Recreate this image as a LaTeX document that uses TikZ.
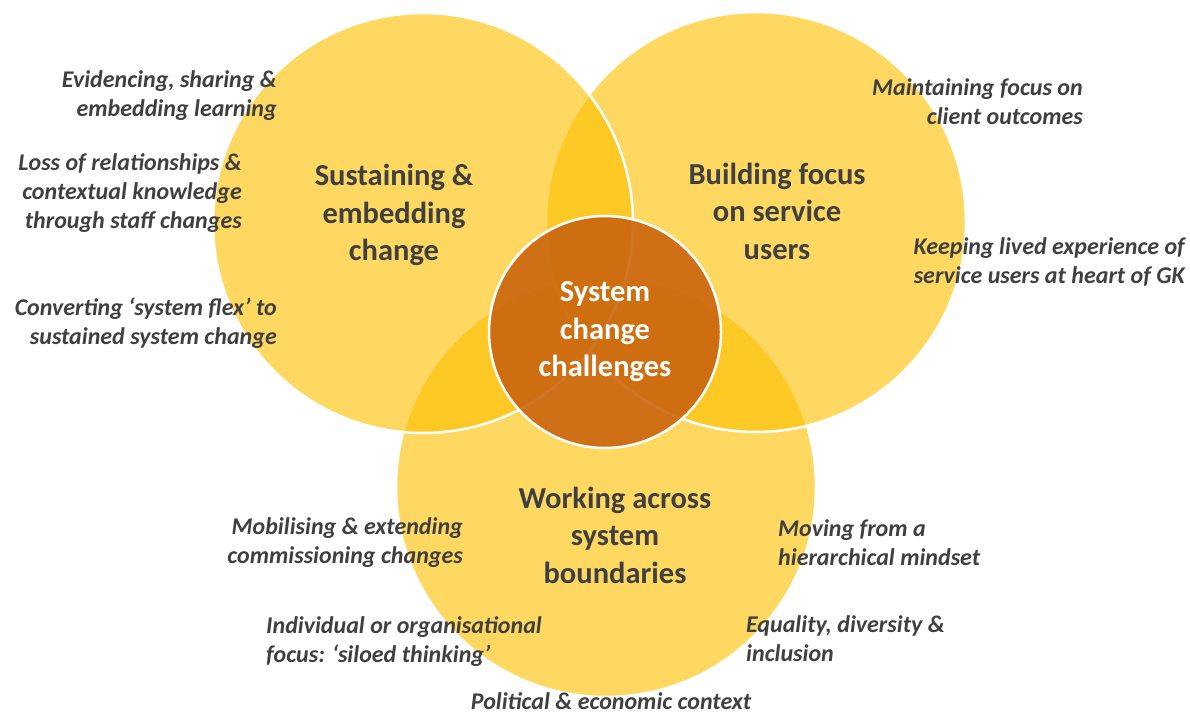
\documentclass[tikz,border=0pt]{standalone}
\usepackage{fontspec}
\setmainfont{Carlito}
\usetikzlibrary{positioning}
\definecolor{gold}{HTML}{FFC000}
\definecolor{rust}{HTML}{CA650F}
\definecolor{ink}{HTML}{404040}
\tikzset{%
	ring/.style = {name = #1, circle, draw = white, line width = 2.5pt, fill = gold, fill opacity = 0.62, text opacity = 1, minimum size = 420pt, inner sep = 0pt},
	hub/.style = {name = #1, circle, draw = white, line width = 2.5pt, fill = rust, fill opacity = 0.9, text opacity = 1, minimum size = 232pt, inner sep = 0pt, text = white, align = center, font = \fontsize{30.5}{37.5}\selectfont\bfseries},
	ttl/.style = {name = #1, text = ink, align = center, font = \fontsize{30.5}{37.5}\selectfont\bfseries},
	cue/.style = {name = #1, text = ink, inner sep = 0pt, font = \fontsize{24}{29}\selectfont\bfseries\itshape},
	cuer/.style = {cue = #1, anchor = east, align = right},
	cuel/.style = {cue = #1, anchor = west, align = left}
}
\begin{document}
\begin{tikzpicture}[x = 1pt, y = -1pt]
	\useasboundingbox (0,0) rectangle (1190,714);
	\node [ring = {B}] at (606,487) {};
	\node [ring = {R}] at (756,222) {};
	\node [ring = {L}] at (423,223) {};
	\node [hub = {C}] at (605,332) {System\\change\\challenges};
	\node [ttl = {sus}] at (394,215) {Sustaining \&\\embedding\\change};
	\node [ttl = {bld}] at (777,211) {Building focus\\on service\\users};
	\node [ttl = {wrk}] at (615,535) {Working across\\system\\boundaries};
	\node [cuer = {ev}] at (277,96) {Evidencing, sharing \&\\embedding learning};
	\node [cuer = {loss}] at (242,193) {Loss of relationships \&\\contextual knowledge\\through staff changes};
	\node [cuer = {conv}] at (277,323) {Converting ‘system flex’ to\\sustained system change};
	\node [cuer = {maint}] at (1083,102) {Maintaining focus on\\client outcomes};
	\node [cuer = {keep}] at (1185,262) {Keeping lived experience of\\service users at heart of GK};
	\node [cuer = {mob}] at (463,543) {Mobilising \& extending\\commissioning changes};
	\node [cuel = {move}] at (778,543) {Moving from a\\hierarchical mindset};
	\node [cuel = {indiv}] at (266,642) {Individual or organisational\\focus: ‘siloed thinking’};
	\node [cuel = {eq}] at (746,639) {Equality, diversity \&\\inclusion};
	\node [cue = {pol}] at (611,701) {Political \& economic context};
\end{tikzpicture}
\end{document}
